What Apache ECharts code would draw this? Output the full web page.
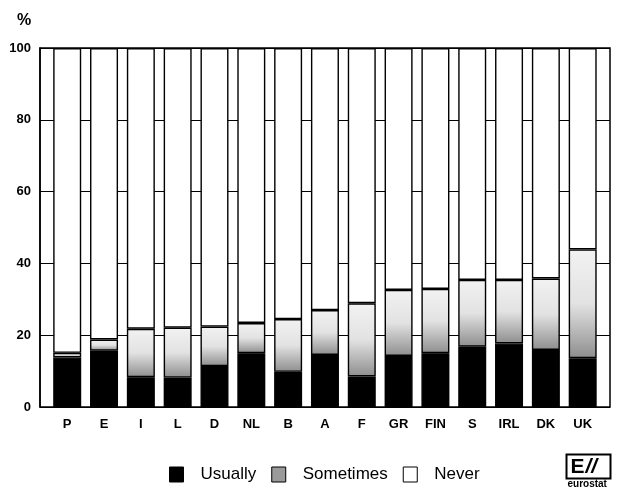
<!DOCTYPE html>
<html>
<head>
<meta charset="utf-8">
<script src="https://cdn.jsdelivr.net/npm/echarts@6/dist/echarts.min.js"></script>
<style>
html,body{margin:0;padding:0;background:#fff;}
#chart{width:622px;height:488px;}
</style>
</head>
<body>
<div id="chart"></div>
<script>
var categories = ['P','E','I','L','D','NL','B','A','F','GR','FIN','S','IRL','DK','UK'];
var usually   = [13.8,15.7,8.3,8.2,11.4,15.0,9.8,14.5,8.5,14.2,15.0,16.8,17.7,15.9,13.6];
var sometimes = [1.3,3.1,13.5,13.9,11.0,8.4,14.7,12.5,20.4,18.4,17.9,18.6,17.7,19.9,30.3];
var never     = [84.9,81.2,78.2,77.9,77.6,76.6,75.5,73.0,71.1,67.4,67.1,64.6,64.6,64.2,56.1];
var yTicks = { min: 0, max: 100, interval: 20 };
var seriesNames = ['Usually','Sometimes','Never'];

var FONT = '"Liberation Sans", Arial, Helvetica, sans-serif';
var chart = echarts.init(document.getElementById('chart'), null, {renderer:'canvas'});

var sometimesFill = {
  type: 'linear', x: 0, y: 0, x2: 0, y2: 1,
  colorStops: [
    {offset: 0, color: '#f2f2f2'},
    {offset: 0.5, color: '#e2e2e2'},
    {offset: 1, color: '#8e8e8e'}
  ]
};

var option = {
  backgroundColor: '#fff',
  animation: false,
  title: {
    text: '%', left: 12, top: 8,
    textStyle: {fontFamily: FONT, fontSize: 16, fontWeight: 'bold', color: '#000'}
  },
  grid: [
    {left: 48.8, right: 20.9, top: 48, bottom: 81, show: false},
    {left: 40, right: 12, top: 48, bottom: 81, show: true, borderColor: '#000', borderWidth: 1.5, backgroundColor: 'transparent'}
  ],
  xAxis: [
    {
      gridIndex: 0, type: 'category', data: categories,
      axisLine: {show: false}, axisTick: {show: false},
      axisLabel: {margin: 11, fontFamily: FONT, fontSize: 13, fontWeight: 'bold', color: '#000'}
    },
    {gridIndex: 1, type: 'value', show: false, min: 0, max: 1}
  ],
  yAxis: [
    {gridIndex: 0, type: 'value', min: yTicks.min, max: yTicks.max, interval: yTicks.interval, show: false, splitLine: {show: false}},
    {
      gridIndex: 1, type: 'value', min: yTicks.min, max: yTicks.max, interval: yTicks.interval,
      axisLine: {show: true, lineStyle: {color: '#000', width: 1.5}},
      axisTick: {show: false},
      axisLabel: {margin: 9, fontFamily: FONT, fontSize: 13, fontWeight: 'bold', color: '#000'},
      splitLine: {show: true, lineStyle: {color: '#000', width: 1}}
    }
  ],
  legend: {
    left: 164, top: 461,
    itemWidth: 14, itemHeight: 15, itemGap: 15,
    icon: 'rect',
    textStyle: {fontFamily: FONT, fontSize: 17, color: '#000', padding: [0,0,0,12]},
    data: [
      {name: seriesNames[0], itemStyle: {color: '#000', borderColor: '#000', borderWidth: 1}},
      {name: seriesNames[1], itemStyle: {color: '#9a9a9a', borderColor: '#000', borderWidth: 1}},
      {name: seriesNames[2], itemStyle: {color: '#fff', borderColor: '#000', borderWidth: 1}}
    ]
  },
  series: [
    {
      name: seriesNames[0], type: 'bar', stack: 'all', xAxisIndex: 0, yAxisIndex: 0,
      barWidth: 28, data: usually,
      itemStyle: {color: '#000', borderColor: '#000', borderWidth: 1.4}
    },
    {
      name: seriesNames[1], type: 'bar', stack: 'all', xAxisIndex: 0, yAxisIndex: 0,
      barWidth: 28, data: sometimes,
      itemStyle: {color: sometimesFill, borderColor: '#000', borderWidth: 1.4}
    },
    {
      name: seriesNames[2], type: 'bar', stack: 'all', xAxisIndex: 0, yAxisIndex: 0,
      barWidth: 28, data: never,
      itemStyle: {color: '#fff', borderColor: '#000', borderWidth: 1.4}
    }
  ],
  graphic: [
    {
      type: 'group', left: 564, top: 452,
      children: [
        {type: 'rect', shape: {x: 0, y: 0, width: 44, height: 24}, style: {fill: 'none', stroke: '#000', lineWidth: 2}},
        {type: 'text', x: 4, y: 2, style: {text: 'E', font: 'bold 21px ' + FONT, fill: '#000'}},
        {type: 'text', x: 19, y: 2, style: {text: '//', font: 'italic bold 21px ' + FONT, fill: '#000'}},
        {type: 'text', x: 1, y: 25, style: {text: 'eurostat', font: 'bold 10px ' + FONT, fill: '#000'}}
      ]
    }
  ]
};
chart.setOption(option);
</script>
</body>
</html>
